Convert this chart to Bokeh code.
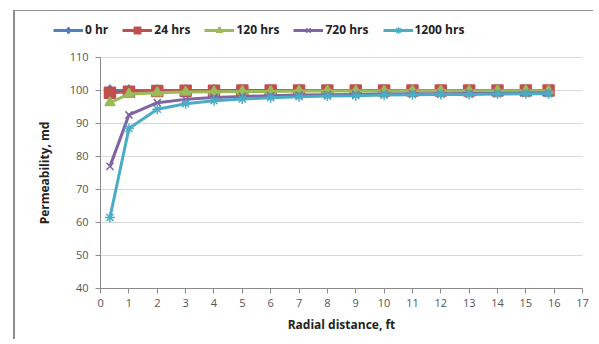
from bokeh.plotting import figure
from bokeh.models import Legend, LegendItem, FixedTicker, Range1d, BoxAnnotation
from bokeh.embed import file_html
from bokeh.resources import INLINE

x_ft = [0.33, 1, 2, 3, 4, 5, 6, 7, 8, 9, 10, 11, 12, 13, 14, 15, 15.8]
perm_0 = [100.0] * 17
perm_24 = [99.3, 99.6, 99.8, 99.9, 99.9, 100, 100, 100, 100, 100, 100, 100, 100, 100, 100, 100, 100]
perm_120 = [96.3, 98.9, 99.3, 99.5, 99.6, 99.7, 99.7, 99.8, 99.8, 99.8, 99.8, 99.9, 99.9, 99.9, 99.9, 99.9, 99.9]
perm_720 = [77.0, 92.6, 96.3, 97.3, 97.9, 98.2, 98.4, 98.6, 98.7, 98.8, 98.9, 99.0, 99.0, 99.1, 99.1, 99.2, 99.2]
perm_1200 = [61.5, 88.5, 94.3, 96.0, 96.9, 97.4, 97.8, 98.1, 98.3, 98.4, 98.6, 98.7, 98.8, 98.8, 98.9, 99.0, 99.0]
labels = ["0 hr", "24 hrs", "120 hrs", "720 hrs", "1200 hrs"]
x_ticks = list(range(0, 18))
y_ticks = list(range(40, 111, 10))

# frame extends beyond the axes so that legend and axis texts are not clipped
p = figure(width=580, height=329, output_backend="svg", toolbar_location=None,
           x_range=Range1d(-2.19, 17.35), y_range=Range1d(25.76, 121.8),
           min_border_left=23, min_border_right=3, min_border_top=7, min_border_bottom=5)
p.outline_line_color = None
p.background_fill_color = "white"
p.border_fill_color = "white"
p.styles = {"margin-left": "13px", "margin-top": "10px",
            "border-left": "2px solid #8f8f8f", "border-top": "1px solid #8f8f8f"}

grid = p.ygrid[0]
if "cross_bounds" in grid.properties():
    grid.cross_bounds = (0, 17)
else:
    p.add_layout(BoxAnnotation(right=0, fill_color="white", fill_alpha=1.0,
                               line_alpha=0, level="underlay"))

series = [
    (perm_0, "#4F81BD", "diamond", 11),
    (perm_24, "#C0504D", "square", 11),
    (perm_120, "#9BBB59", "triangle", 10),
    (perm_720, "#8064A2", "x", 10),
    (perm_1200, "#4BACC6", "asterisk", 10),
]
items = []
for (ys, col, mk, sz), lab in zip(series, labels):
    r1 = p.line(x_ft, ys, line_color=col, line_width=3)
    r2 = p.scatter(x_ft, ys, marker=mk, size=sz, fill_color=col, line_color=col, line_width=1.5)
    items.append(LegendItem(label=lab, renderers=[r1, r2]))

legend = Legend(items=items, orientation="horizontal", location=(15, 297),
                label_text_font="Open Sans", label_text_font_style="bold",
                label_text_font_size="12px", label_text_color="#222222",
                glyph_width=30, glyph_height=16, spacing=14, padding=0, margin=0,
                label_standoff=2, border_line_color=None, background_fill_alpha=0)
p.add_layout(legend, "center")

p.xaxis.ticker = FixedTicker(ticks=x_ticks)
p.xaxis.bounds = (0, 17)
p.xaxis.fixed_location = 40
p.yaxis.ticker = FixedTicker(ticks=y_ticks)
p.yaxis.bounds = (40, 110)
p.yaxis.fixed_location = 0
p.xaxis.axis_label = "Radial distance, ft"
p.yaxis.axis_label = "Permeability, md"
for ax in (p.xaxis, p.yaxis):
    ax.axis_label_text_font = "Open Sans"
    ax.axis_label_text_font_style = "bold"
    ax.axis_label_text_font_size = "12px"
    ax.axis_label_text_color = "#222222"
    ax.major_label_text_font = "Open Sans"
    ax.major_label_text_font_size = "11px"
    ax.major_label_text_color = "#555555"
    ax.axis_line_color = "#8a8a8a"
    ax.major_tick_line_color = "#8a8a8a"
    ax.major_tick_out = 5
    ax.major_tick_in = 0
    ax.minor_tick_line_color = None
p.xaxis.major_label_standoff = 6
p.xaxis.axis_label_standoff = 5
p.yaxis.major_label_standoff = 7
p.yaxis.axis_label_standoff = 14
p.xgrid.grid_line_color = None
p.ygrid.grid_line_color = "#d9d9d9"

open("out.html", "w").write(file_html(p, INLINE))
